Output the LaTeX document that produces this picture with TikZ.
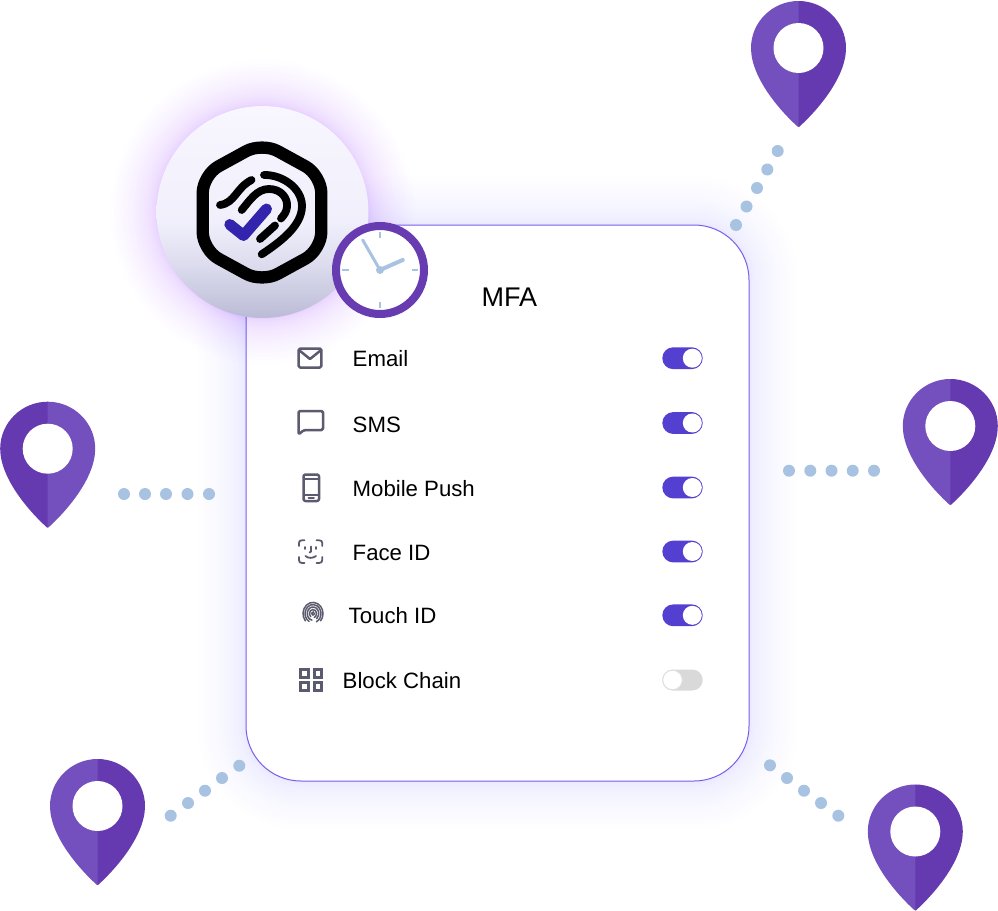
\documentclass[tikz,border=0pt]{standalone}
\usepackage{fontspec}
\setmainfont{Liberation Sans}
\definecolor{pinlight}{HTML}{7350BE}
\definecolor{pindark}{HTML}{6539B0}
\definecolor{dotblue}{HTML}{A8C2E2}
\definecolor{glowviolet}{HTML}{8A45FF}
\definecolor{cardedge}{HTML}{7B5CEB}
\definecolor{toggleon}{HTML}{5440D0}
\definecolor{toggleoff}{HTML}{D9D9D9}
\definecolor{icongrey}{HTML}{5C5A6E}
\definecolor{checkblue}{HTML}{3324AE}
\definecolor{clockring}{HTML}{683CB1}
\definecolor{badgeT}{HTML}{F8F7FF}
\definecolor{badgeM}{HTML}{F0EFFB}
\definecolor{badgeL}{HTML}{DCDCEE}
\definecolor{badgeB}{HTML}{BBBBD6}
\pgfdeclareverticalshading{badgeshade}{100bp}{color(0bp)=(badgeB);color(25bp)=(badgeB);color(37.5bp)=(badgeL);color(47.5bp)=(badgeM);color(75bp)=(badgeT);color(100bp)=(badgeT)}
\tikzset{
  rowlabel/.style={anchor=base west,inner sep=0pt,text=black,font=\fontsize{22.2}{26}\selectfont},
  titlelabel/.style={anchor=base west,inner sep=0pt,text=black,font=\fontsize{27}{30}\selectfont},
  icon/.style={draw=icongrey,line width=2.5pt,line join=round,line cap=round},
  gridicon/.style={draw=icongrey,line width=3pt,line join=miter,line cap=butt},
  thinicon/.style={draw=icongrey,line width=1.8pt,line cap=round,line join=round},
  printline/.style={draw=black,line width=7.8pt,line cap=round,line join=round},
  hand/.style={draw=dotblue,line cap=round},
  tick/.style={draw=dotblue,line width=2.4pt},
  bluedot/.style={fill=dotblue,draw=none}
}
\newcommand{\mappin}[4]{%
  \begin{scope}[shift={(#1,#2)}]
    \fill[#3] (0.5,0) -- (0,0) .. controls (-26,0) and (-47.5,21) .. (-47.5,47)
       .. controls (-47.5,78) and (-16,112) .. (-1,125.5) -- (0,126) -- (0.5,125.5) -- cycle;
    \fill[#4] (0,0) .. controls (26,0) and (47.5,21) .. (47.5,47)
       .. controls (47.5,78) and (16,112) .. (1,125.5) -- (0,126) -- cycle;
    \fill[white] (0,47) circle[radius=25];
  \end{scope}}
\newcommand{\toggleon}[1]{%
  \fill[toggleon,rounded corners=10.9pt] (662.3,#1-10.9) rectangle (702.7,#1+10.9);
  \fill[white] (692.3,#1) circle[radius=9.5];}
\newcommand{\printring}[4]{%
  \draw (313,613.6) ++(#1:#3 and #4) arc[start angle=#1,end angle=#2,x radius=#3,y radius=#4];}
\begin{document}
\begin{tikzpicture}[x=1pt,y=-1pt]
\useasboundingbox (0,0) rectangle (998,910);
\fill[white] (0,0) rectangle (998,910);
% card glow
\foreach \i in {1,...,24}{
  \pgfmathsetmacro{\s}{\i*\i*0.085}
  \pgfmathsetmacro{\rr}{55+\s}
  \fill[glowviolet,opacity=0.004,rounded corners=\rr pt] (246-\s,225-\s) rectangle (749+\s,781+\s);
}
% card
\draw[cardedge,line width=1pt,fill=white,rounded corners=55pt] (246,225) rectangle (749,781);
% circle glow
\foreach \i in {1,...,24}{
  \pgfmathsetmacro{\s}{106+\i*\i*0.08}
  \fill[glowviolet,opacity=0.006] (262.5,212) circle[radius=\s];
}
% dots
\foreach \p in {(777.7,151),(767.3,169.5),(757,188),(746.5,206.5),(736,225),
  (124,494),(145,494),(166,494),(187.5,494),(209,494),
  (789,470.7),(810.3,470.7),(831.5,470.7),(852.7,470.7),(874,470.7),
  (170.7,815.7),(188,803),(205,790.7),(222,778),(239.3,765.7),
  (770,765.3),(787,778),(804,790.7),(821,803),(838.3,815.7)}{
  \fill[bluedot] \p circle[radius=6];
}
% pins
\mappin{798.5}{1}{pinlight}{pindark}
\mappin{950.3}{379}{pinlight}{pindark}
\mappin{47.7}{401.7}{pindark}{pinlight}
\mappin{97.5}{759}{pinlight}{pindark}
\mappin{915.3}{784.5}{pinlight}{pindark}
% badge circle
\shade[shading=badgeshade] (262.5,212) circle[radius=106];
% logo hexagon
\draw[black,line width=12.3pt,rounded corners=18pt,line join=round]
  (262,142.5) -- (321.3,175) -- (321.3,250) -- (262,282.5) -- (202.7,250) -- (202.7,175) -- cycle;
\draw[printline] (220,205) .. controls (235,203) and (236,188) .. (251.5,180);
\draw[printline] (264,175) .. controls (282,174.5) and (302,188) .. (302,206) .. controls (302,226) and (280,242) .. (261.7,254.3);
\draw[printline] (241.7,210) .. controls (250,200) and (257,189) .. (269,189) .. controls (281,189) and (288,198) .. (287,207) .. controls (286.5,212) and (284,215) .. (281,218.5);
\draw[printline] (260,239) -- (275,225.5);
\draw[checkblue,line width=11pt,line cap=round,line join=round] (229.8,224.5) -- (243.5,235.5) -- (266.5,209);
% clock
\draw[clockring,line width=8pt,fill=white] (380,270) circle[radius=44];
\draw[tick] (380,231.7) -- (380,238.3);
\draw[tick] (380,301.7) -- (380,308.3);
\draw[tick] (342.3,270) -- (349,270);
\draw[tick] (412.3,270) -- (418.3,270);
\draw[hand,line width=3pt] (380,270) -- (362.7,240);
\draw[hand,line width=4pt] (380,270) -- (402.7,260);
\fill[dotblue] (380,270) circle[radius=4];
% text
\node[titlelabel] (mfa) at (481.5,306.3) {MFA};
\node[rowlabel] (email) at (352.5,366.5) {Email};
\node[rowlabel] (sms) at (352.5,432) {SMS};
\node[rowlabel] (push) at (352.5,496.2) {Mobile Push};
\node[rowlabel] (face) at (352.5,560.3) {Face ID};
\node[rowlabel] (touch) at (348.5,623.8) {Touch ID};
\node[rowlabel] (chain) at (342.5,688.2) {Block Chain};
% toggles
\toggleon{358.2}
\toggleon{423}
\toggleon{487.5}
\toggleon{551.5}
\toggleon{615.3}
\fill[toggleoff,rounded corners=10.5pt] (662.3,669.5) rectangle (702.7,690.5);
\draw[fill=white,draw=black!12,line width=1pt] (672.5,680) circle[radius=9.8];
% email icon
\draw[icon,rounded corners=1.5pt] (298.6,348.6) rectangle (321.4,367.5);
\draw[icon] (299.5,350.5) -- (310,359) -- (320.5,350.5);
% sms icon
\draw[icon,rounded corners=1.5pt] (298.5,434.5) -- (298.5,411) -- (323,411) -- (323,430) -- (304,430) -- cycle;
% mobile icon
\draw[icon,rounded corners=2pt] (303.5,474.5) rectangle (319,501);
\draw[thinicon] (304,479) -- (318.5,479);
\draw[thinicon] (304,495) -- (318.5,495);
\draw[thinicon] (308.5,498) -- (314,498);
% face icon
\begin{scope}[thinicon]
\draw (299,546) -- (299,543) .. controls (299,541) and (300,540.3) .. (302,540.3) -- (304.5,540.3);
\draw (316.5,540.3) -- (319,540.3) .. controls (321,540.3) and (322.3,541) .. (322.3,543) -- (322.3,546);
\draw (299,557) -- (299,560) .. controls (299,562) and (300,563) .. (302,563) -- (304.5,563);
\draw (316.5,563) -- (319,563) .. controls (321,563) and (322.3,562) .. (322.3,560) -- (322.3,557);
\draw (305,547) -- (305,549);
\draw (316,547) -- (316,549);
\draw (311,546.5) -- (311,551.5) -- (309.5,552.5);
\draw (305.5,556) .. controls (308,558.5) and (313,558.5) .. (316,556);
\end{scope}
% touch icon
\begin{scope}[draw=icongrey,line width=1.5pt,line cap=round]
\printring{100}{420}{1.4}{1.6}
\printring{130}{430}{3.6}{4.1}
\printring{100}{410}{5.8}{6.6}
\printring{120}{425}{8}{9}
\printring{140}{400}{10}{11.2}
\end{scope}
% block chain icon
\draw[gridicon] (300.5,669.2) rectangle (308.3,677);
\draw[gridicon] (314.3,669.2) rectangle (321.9,677);
\draw[gridicon] (300.5,682.5) rectangle (308.3,690.2);
\draw[gridicon] (314.3,682.5) rectangle (321.9,690.2);
\end{tikzpicture}
\end{document}
